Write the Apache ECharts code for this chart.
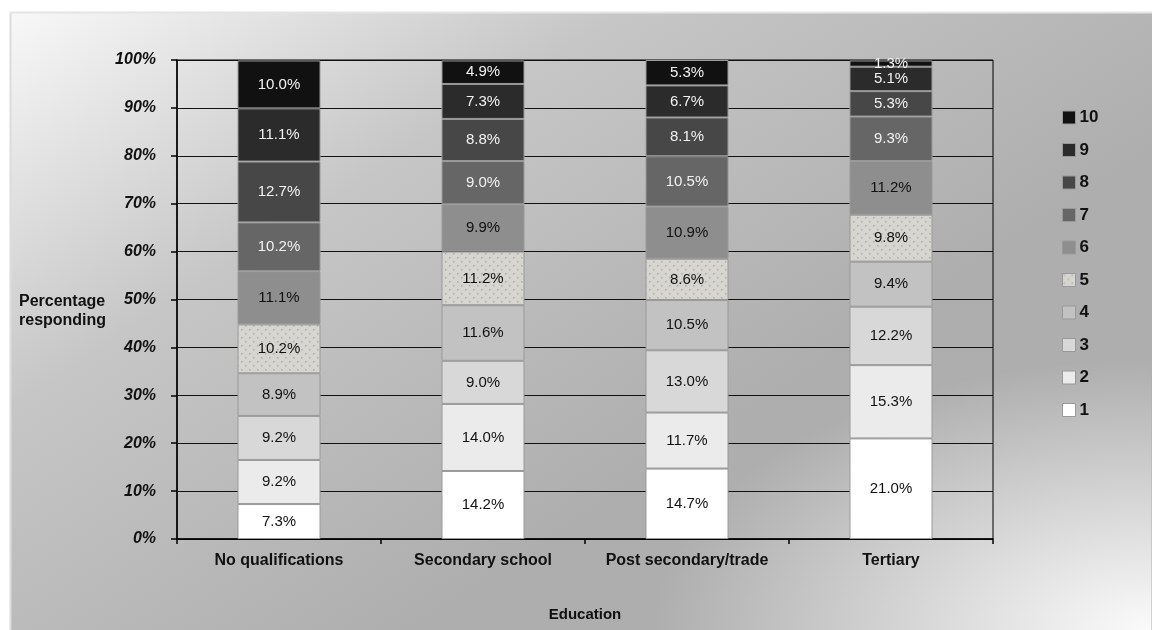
<!DOCTYPE html>
<html>
<head>
<meta charset="utf-8">
<script src="https://cdn.jsdelivr.net/npm/echarts@6/dist/echarts.min.js"></script>
<style>
html,body{margin:0;padding:0;background:#fff;}
#chart{width:1152px;height:630px;}
</style>
</head>
<body>
<div id="chart"></div>
<script>
// ---- data ----
var categories = ['No qualifications', 'Secondary school', 'Post secondary/trade', 'Tertiary'];
var seriesNames = ['1', '2', '3', '4', '5', '6', '7', '8', '9', '10'];
var s1  = [7.3, 14.2, 14.7, 21.0];
var s2  = [9.2, 14.0, 11.7, 15.3];
var s3  = [9.2, 9.0, 13.0, 12.2];
var s4  = [8.9, 11.6, 10.5, 9.4];
var s5  = [10.2, 11.2, 8.6, 9.8];
var s6  = [11.1, 9.9, 10.9, 11.2];
var s7  = [10.2, 9.0, 10.5, 9.3];
var s8  = [12.7, 8.8, 8.1, 5.3];
var s9  = [11.1, 7.3, 6.7, 5.1];
var s10 = [10.0, 4.9, 5.3, 1.3];
var seriesValues = [s1, s2, s3, s4, s5, s6, s7, s8, s9, s10];
var yTicks = [0, 10, 20, 30, 40, 50, 60, 70, 80, 90, 100];

// ---- styles ----
var pat = document.createElement('canvas');
pat.width = 8; pat.height = 8;
var pc = pat.getContext('2d');
pc.fillStyle = '#d7d5cf'; pc.fillRect(0, 0, 8, 8);
pc.fillStyle = '#aeaca6';
pc.fillRect(1, 1, 1.5, 1.5);
pc.fillRect(5, 5, 1.5, 1.5);

var fills = ['#ffffff', '#ebebeb', '#d8d8d8', '#c2c2c2', {image: pat, repeat: 'repeat'},
             '#8e8e8e', '#666666', '#474747', '#2b2b2b', '#111111'];
var labelColors = ['#111', '#111', '#111', '#111', '#111', '#111', '#f2f2f2', '#f2f2f2', '#f2f2f2', '#f2f2f2'];

var series = seriesNames.map(function (name, i) {
  return {
    name: name,
    type: 'bar',
    stack: 'total',
    barWidth: 83,
    data: seriesValues[i],
    itemStyle: {color: fills[i], borderColor: '#9a9a9a', borderWidth: 1},
    label: {
      show: true,
      position: 'inside',
      formatter: function (p) { return p.value.toFixed(1) + '%'; },
      color: labelColors[i],
      fontFamily: 'Liberation Sans, Arial, sans-serif',
      fontSize: 15
    }
  };
});

var chart = echarts.init(document.getElementById('chart'), null, {renderer: 'canvas'});
chart.setOption({
  backgroundColor: '#ffffff',
  animation: false,
  graphic: [
    {type: 'rect', z: -10, silent: true, shape: {x: 10, y: 12, width: 1142, height: 618},
     style: {fill: {type: 'linear', x: 0, y: 0, x2: 0.35, y2: 1,
       colorStops: [{offset: 0, color: '#f8f8f8'}, {offset: 0.45, color: '#c6c6c6'}, {offset: 1, color: '#aeaeae'}]}}},
    {type: 'rect', z: -9, silent: true, x: 652, y: 360, scaleX: 1.85, shape: {x: 0, y: 0, width: 270, height: 270},
     style: {fill: {type: 'radial', x: 1, y: 1, r: 1,
       colorStops: [{offset: 0, color: 'rgba(255,255,255,0.95)'}, {offset: 1, color: 'rgba(255,255,255,0)'}]}}},
    {type: 'line', z: -8, silent: true, shape: {x1: 10.5, y1: 12, x2: 10.5, y2: 630}, style: {stroke: '#dcdcdc', lineWidth: 2}},
    {type: 'line', z: -8, silent: true, shape: {x1: 10, y1: 12.5, x2: 1152, y2: 12.5}, style: {stroke: '#e4e4e4', lineWidth: 2}},
    {type: 'text', left: 19, top: 292, silent: true,
     style: {text: 'Percentage\nresponding', fontFamily: 'Liberation Sans, Arial, sans-serif', fontWeight: 'bold',
       fontSize: 16, lineHeight: 19, fill: '#111'}}
  ],
  grid: {left: 177, right: 159, top: 60, bottom: 91, show: true, borderColor: '#000', borderWidth: 1,
         backgroundColor: 'transparent', containLabel: false},
  legend: {
    orient: 'vertical',
    left: 1062,
    top: 109,
    data: seriesNames.slice().reverse(),
    itemWidth: 13,
    itemHeight: 13,
    itemGap: 15.5,
    icon: 'rect',
    padding: 0,
    textStyle: {fontFamily: 'Liberation Sans, Arial, sans-serif', fontWeight: 'bold', fontSize: 17, color: '#111', padding: [0, 0, 0, -1]},
    itemStyle: {borderColor: '#999', borderWidth: 1}
  },
  xAxis: {
    type: 'category',
    data: categories,
    name: 'Education',
    nameLocation: 'middle',
    nameGap: 68,
    nameTextStyle: {fontFamily: 'Liberation Sans, Arial, sans-serif', fontWeight: 'bold', fontSize: 15, color: '#111'},
    axisLine: {lineStyle: {color: '#000', width: 1.5}},
    axisTick: {show: true, alignWithLabel: false, length: 5, lineStyle: {color: '#000', width: 1.5}},
    axisLabel: {margin: 14, fontFamily: 'Liberation Sans, Arial, sans-serif', fontWeight: 'bold', fontSize: 16, color: '#111', interval: 0},
    splitLine: {show: false}
  },
  yAxis: {
    type: 'value',
    min: yTicks[0],
    max: yTicks[yTicks.length - 1],
    interval: yTicks[1] - yTicks[0],
    axisLine: {show: true, lineStyle: {color: '#000', width: 1.5}},
    axisTick: {show: true, length: 6, lineStyle: {color: '#000', width: 1.5}},
    axisLabel: {margin: 21, formatter: '{value}%', fontFamily: 'Liberation Sans, Arial, sans-serif',
      fontWeight: 'bold', fontStyle: 'italic', fontSize: 16, color: '#111'},
    splitLine: {show: true, lineStyle: {color: '#111', width: 1.2}}
  },
  series: series
});
</script>
</body>
</html>
